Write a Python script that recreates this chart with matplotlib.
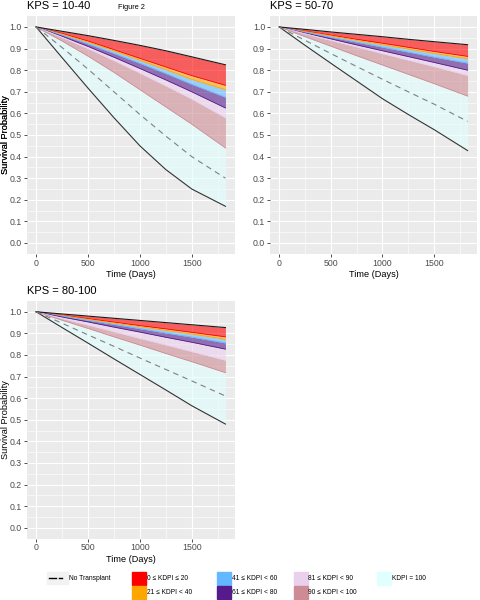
import matplotlib
matplotlib.use("Agg")
import matplotlib.pyplot as plt
from matplotlib.patches import Rectangle
from matplotlib.lines import Line2D

plt.rcParams['font.family'] = ['Liberation Sans', 'DejaVu Sans']

# time points (days)
days = [0, 250, 500, 750, 1000, 1250, 1500, 1825]

# KPS = 10-40 : curve boundaries, from top to bottom
kps1_top    = [1.0, 0.980, 0.960, 0.938, 0.915, 0.890, 0.862, 0.825]
kps1_red    = [1.0, 0.970, 0.935, 0.895, 0.855, 0.815, 0.775, 0.730]
kps1_orange = [1.0, 0.967, 0.930, 0.890, 0.846, 0.803, 0.758, 0.710]
kps1_blue   = [1.0, 0.963, 0.922, 0.878, 0.832, 0.785, 0.735, 0.675]
kps1_purple = [1.0, 0.957, 0.910, 0.860, 0.808, 0.755, 0.700, 0.625]
kps1_pink   = [1.0, 0.952, 0.900, 0.845, 0.787, 0.728, 0.667, 0.580]
kps1_rosy   = [1.0, 0.935, 0.865, 0.790, 0.710, 0.630, 0.550, 0.440]
kps1_dash   = [1.0, 0.905, 0.805, 0.700, 0.595, 0.495, 0.400, 0.300]
kps1_none   = [1.0, 0.858, 0.717, 0.580, 0.450, 0.340, 0.250, 0.170]

# KPS = 50-70
kps2_top    = [1.0, 0.989, 0.977, 0.966, 0.955, 0.943, 0.932, 0.918]
kps2_red    = [1.0, 0.981, 0.962, 0.943, 0.925, 0.906, 0.887, 0.864]
kps2_orange = [1.0, 0.979, 0.959, 0.938, 0.918, 0.898, 0.878, 0.853]
kps2_blue   = [1.0, 0.976, 0.953, 0.930, 0.907, 0.884, 0.861, 0.833]
kps2_purple = [1.0, 0.972, 0.945, 0.917, 0.890, 0.863, 0.836, 0.800]
kps2_pink   = [1.0, 0.969, 0.938, 0.908, 0.877, 0.847, 0.817, 0.776]
kps2_rosy   = [1.0, 0.955, 0.911, 0.867, 0.824, 0.781, 0.738, 0.680]
kps2_dash   = [1.0, 0.938, 0.877, 0.817, 0.758, 0.700, 0.643, 0.563]
kps2_none   = [1.0, 0.915, 0.832, 0.750, 0.668, 0.595, 0.525, 0.428]

# KPS = 80-100
kps3_top    = [1.0, 0.990, 0.980, 0.970, 0.960, 0.950, 0.940, 0.927]
kps3_red    = [1.0, 0.984, 0.968, 0.952, 0.936, 0.921, 0.905, 0.884]
kps3_orange = [1.0, 0.983, 0.965, 0.948, 0.931, 0.914, 0.897, 0.873]
kps3_blue   = [1.0, 0.980, 0.961, 0.942, 0.922, 0.902, 0.883, 0.856]
kps3_purple = [1.0, 0.976, 0.953, 0.929, 0.906, 0.882, 0.859, 0.827]
kps3_pink   = [1.0, 0.969, 0.939, 0.908, 0.877, 0.847, 0.816, 0.776]
kps3_rosy   = [1.0, 0.961, 0.923, 0.884, 0.846, 0.807, 0.769, 0.718]
kps3_dash   = [1.0, 0.947, 0.893, 0.840, 0.786, 0.733, 0.680, 0.610]
kps3_none   = [1.0, 0.927, 0.855, 0.782, 0.710, 0.638, 0.565, 0.480]

kdpi_labels = ['0 ≤ KDPI ≤ 20', '21 ≤ KDPI < 40', '41 ≤ KDPI < 60', '61 ≤ KDPI < 80',
               '81 ≤ KDPI < 90', '90 ≤ KDPI < 100', 'KDPI = 100']
kdpi_colors = ['#FF0000', '#FFA500', '#63B8FF', '#551A8B', '#EBD0EE', '#CD8C95', '#E0FFFF']

panels = [
    ('KPS = 10-40', [kps1_top, kps1_red, kps1_orange, kps1_blue, kps1_purple, kps1_pink, kps1_rosy, kps1_none], kps1_dash),
    ('KPS = 50-70', [kps2_top, kps2_red, kps2_orange, kps2_blue, kps2_purple, kps2_pink, kps2_rosy, kps2_none], kps2_dash),
    ('KPS = 80-100', [kps3_top, kps3_red, kps3_orange, kps3_blue, kps3_purple, kps3_pink, kps3_rosy, kps3_none], kps3_dash),
]

W, H = 480, 600
fig = plt.figure(figsize=(4.8, 6), dpi=100)

# axes rectangles in pixels: left, top, right, bottom
rects = [(26.7, 16.2, 234.9, 253.8), (269.9, 16.2, 477.0, 253.8), (26.7, 301.0, 234.9, 538.5)]

for (title, bounds, dash), (l, t, r, b) in zip(panels, rects):
    ax = fig.add_axes([l / W, 1 - b / H, (r - l) / W, (b - t) / H])
    ax.set_facecolor('#EBEBEB')
    for s in ax.spines.values():
        s.set_visible(False)
    ax.set_xlim(-91.25, 1916.25)
    ax.set_ylim(-0.05, 1.05)
    ax.set_xticks([0, 500, 1000, 1500])
    ax.set_xticks([250, 750, 1250, 1750], minor=True)
    ax.set_yticks([i / 10 for i in range(11)])
    ax.set_yticklabels(['%.1f' % (i / 10) for i in range(11)])
    ax.set_yticks([i / 10 + 0.05 for i in range(10)], minor=True)
    ax.grid(which='major', color='white', lw=0.8)
    ax.grid(which='minor', color='white', lw=0.4)
    ax.set_axisbelow(True)
    ax.tick_params(which='major', length=2, width=0.6, color='#333333',
                   labelsize=6.3, labelcolor='#4D4D4D', pad=1.5)
    ax.tick_params(which='minor', length=0)

    for i, col in enumerate(kdpi_colors):
        ax.fill_between(days, bounds[i + 1], bounds[i], color=col, alpha=0.6, lw=0, zorder=2)
        if i < len(kdpi_colors) - 1:
            ax.plot(days, bounds[i + 1], color=col, lw=0.6, zorder=3)
    ax.plot(days, bounds[0], color='#1A1A1A', lw=0.8, zorder=4)
    ax.plot(days, bounds[-1], color='#333333', lw=0.8, zorder=4)
    ax.plot(days, dash, color='#808080', lw=0.8, ls=(0, (5, 4)), zorder=4)

    ax.set_ylabel('Survival Probability', fontsize=6.6)
    ax.yaxis.set_label_coords((10.5 - l) / (r - l), 0.5)
    ax.set_xlabel('Time (Days)', fontsize=6.6, labelpad=2)
    ax.text(0.0, 1.02, title, transform=ax.transAxes, fontsize=8, ha='left', va='bottom')

fig.text(118 / W, 1 - 7.5 / H, 'Figure 2', fontsize=5.3, ha='left', va='center')

# legend drawn by hand at the bottom
lax = fig.add_axes([0, 0, 1, 1])
lax.set_xlim(0, W)
lax.set_ylim(H, 0)
lax.axis('off')
lax.add_patch(Rectangle((46.5, 572), 21, 12, color='#F2F2F2'))
lax.add_line(Line2D([49, 56], [578, 578], color='black', lw=1.0))
lax.add_line(Line2D([58.5, 62], [578, 578], color='black', lw=1.0))
lax.text(69, 578, 'No Transplant', fontsize=4.8, va='center', ha='left')

key_x = [131.7, 131.7, 216.7, 216.7, 293.5, 293.5, 376.7]
key_y = [571.7, 586.0, 571.7, 586.0, 571.7, 586.0, 571.7]
for x, y, col, lab in zip(key_x, key_y, kdpi_colors, kdpi_labels):
    lax.add_patch(Rectangle((x, y), 14, 13, color=col))
    lax.text(x + 15, y + 6.5, lab, fontsize=4.8, va='center', ha='left')

plt.savefig('out.png', dpi=100)
